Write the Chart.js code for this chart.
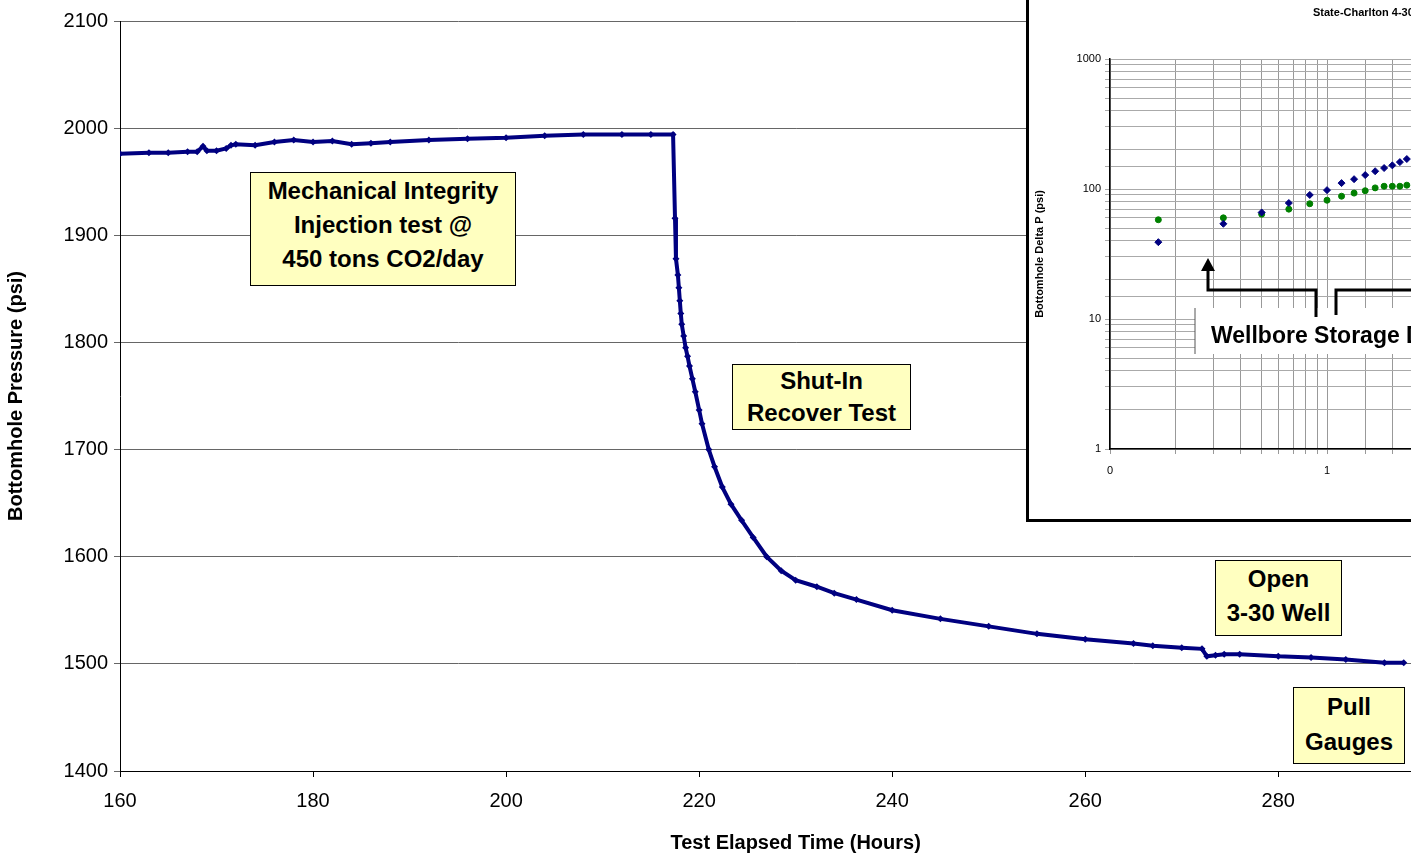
<!DOCTYPE html>
<html>
<head>
<meta charset="utf-8">
<script src="https://cdn.jsdelivr.net/npm/chart.js@4.4.0/dist/chart.umd.min.js"></script>
<style>
  html, body { margin: 0; padding: 0; overflow: hidden; background: #fff; width: 1411px; height: 859px; }
  #main { position: absolute; left: 0; top: 0; }
  #insetBox { position: absolute; left: 1026px; top: -3px; width: 762px; height: 519px; border: 3px solid #000; background: #fff; }
  #inset { position: absolute; left: 0; top: 0; }
  .note { position: absolute; background: #ffffc0; border: 1.5px solid #000; font: bold 24px "Liberation Sans", Arial, sans-serif; text-align: center; line-height: 34px; color: #000; }
  #insetTitle { position: absolute; left: 1313px; top: 6px; font: bold 11px "Liberation Sans", Arial, sans-serif; white-space: nowrap; }
</style>
</head>
<body>
<canvas id="main" width="1500" height="859"></canvas>
<div class="note" style="left:250px;top:172px;width:264px;height:111px;padding-top:1px">Mechanical Integrity<br>Injection test @<br>450 tons CO2/day</div>
<div class="note" style="left:732px;top:364px;width:177px;height:64px;line-height:32px">Shut-In<br>Recover Test</div>
<div class="note" style="left:1215px;top:560px;width:125px;height:73px;line-height:34px;padding-top:1px">Open<br>3-30 Well</div>
<div class="note" style="left:1293px;top:687px;width:110px;height:74px;line-height:35px;padding-top:1px">Pull<br>Gauges</div>
<div id="insetBox"><canvas id="inset" width="762" height="519"></canvas></div>
<div id="insetTitle">State-Charlton 4-30 Falloff Test</div>
<script>
// main test record: elapsed time (hours) vs bottomhole pressure (psi)
const hours = [160, 163, 165, 167, 168, 168.6, 169, 170, 171, 171.5, 172, 174, 176, 178, 180, 182, 184, 186, 188, 192, 196, 200, 204, 208, 212, 215, 217.3,
  217.5, 217.6, 217.8, 217.9, 218.0, 218.1, 218.2, 218.4, 218.6, 218.8, 219.0, 219.3, 219.6, 220.0, 220.3, 221.0, 221.6, 222.4, 223.3, 224.4, 225.6, 227.0, 228.5, 230.0, 232.2, 234.0, 236.3, 240, 245, 250, 255, 260, 265, 267, 270, 272.1, 272.6, 273.5, 274.4, 276, 280, 283.4, 287, 291, 293];
const pressure = [1976, 1977, 1977, 1978, 1978, 1983, 1979, 1979, 1981, 1984, 1985, 1984, 1987, 1989, 1987, 1988, 1985, 1986, 1987, 1989, 1990, 1991, 1993, 1994, 1994, 1994, 1994,
  1916, 1878, 1863, 1851, 1839, 1827, 1817, 1806, 1795, 1787, 1778, 1766, 1754, 1737, 1724, 1700, 1684, 1665, 1649, 1634, 1618, 1600, 1587, 1578, 1572, 1566, 1560, 1550, 1542, 1535, 1528, 1523, 1519, 1517, 1515, 1514, 1507, 1508, 1509, 1509, 1507, 1506, 1504, 1501, 1501];

// inset: log-log delta P vs shut-in time (hours)
const insetHours = [0.167, 0.333, 0.5, 0.667, 0.833, 1.0, 1.167, 1.333, 1.5, 1.667, 1.833, 2.0, 2.167, 2.333];
const insetDeltaP = [39, 54, 66, 78, 90, 98, 111, 119, 128, 137, 145, 152, 161, 170];
const insetDerivative = [58, 60, 64, 70, 77, 82, 88, 93, 97, 102, 105, 105, 105, 107];

const FONT = '"Liberation Sans", Arial, sans-serif';
const NAVY = '#000080';

new Chart(document.getElementById('main'), {
  type: 'line',
  data: {
    datasets: [{
      data: hours.map((h, i) => ({ x: h, y: pressure[i] })),
      borderColor: NAVY, backgroundColor: NAVY, borderWidth: 4,
      pointStyle: 'rectRot', pointRadius: 3.5, pointBorderWidth: 0, tension: 0
    }]
  },
  options: {
    responsive: false, animation: false, devicePixelRatio: 1,
    layout: { padding: { top: 21, right: 22 } },
    plugins: { legend: { display: false }, tooltip: { enabled: false } },
    scales: {
      x: {
        type: 'linear', min: 160, max: 300,
        ticks: { stepSize: 20, color: '#000', font: { family: FONT, size: 20 }, padding: 12, callback: v => String(v) },
        grid: { drawOnChartArea: false, color: '#000', tickLength: 6 },
        border: { color: '#000', width: 1 },
        title: { display: true, text: 'Test Elapsed Time (Hours)', color: '#000', font: { family: FONT, size: 20, weight: 'bold' }, padding: { top: 22 } },
        afterFit: s => { s.height = 88; }
      },
      y: {
        min: 1400, max: 2100,
        ticks: { stepSize: 100, color: '#000', font: { family: FONT, size: 20 }, padding: 6, callback: v => String(v) },
        grid: { color: '#666', tickLength: 6, lineWidth: 1 },
        border: { color: '#000', width: 1 },
        title: { display: true, text: 'Bottomhole Pressure (psi)', color: '#000', font: { family: FONT, size: 20, weight: 'bold' }, padding: { bottom: 4 } },
        afterFit: s => { s.width = 120; }
      }
    }
  }
});

const logLabel = (v) => {
  if (Math.abs(v - 0.1) < 1e-9) return '0';
  const l = Math.log10(v);
  return Math.abs(l - Math.round(l)) < 1e-9 ? String(Math.round(v)) : '';
};

const wellbore = {
  id: 'wellbore',
  afterDraw(c) {
    const ctx = c.ctx;
    ctx.save();
    ctx.fillStyle = '#fff';
    ctx.fillRect(166, 308, 400, 46);
    ctx.strokeStyle = '#555'; ctx.lineWidth = 1;
    ctx.beginPath(); ctx.moveTo(166, 308); ctx.lineTo(166, 354); ctx.stroke();
    ctx.fillStyle = '#000';
    ctx.font = 'bold 23px ' + FONT;
    ctx.fillText('Wellbore Storage Dominated', 182, 343);
    ctx.strokeStyle = '#000'; ctx.lineWidth = 3;
    ctx.beginPath();
    ctx.moveTo(287, 317); ctx.lineTo(287, 290); ctx.lineTo(179, 290); ctx.lineTo(179, 270);
    ctx.moveTo(307, 315); ctx.lineTo(307, 290); ctx.lineTo(450, 290);
    ctx.stroke();
    ctx.beginPath(); ctx.moveTo(179, 258); ctx.lineTo(172, 271); ctx.lineTo(186, 271); ctx.closePath(); ctx.fill();
    ctx.restore();
  }
};

new Chart(document.getElementById('inset'), {
  type: 'scatter',
  data: {
    datasets: [
      { data: insetHours.map((h, i) => ({ x: h, y: insetDeltaP[i] })), backgroundColor: NAVY, borderColor: NAVY, pointStyle: 'rectRot', pointRadius: 3.5 },
      { data: insetHours.map((h, i) => ({ x: h, y: insetDerivative[i] })), backgroundColor: '#008000', borderColor: '#008000', pointStyle: 'circle', pointRadius: 3 }
    ]
  },
  plugins: [wellbore],
  options: {
    responsive: false, animation: false, devicePixelRatio: 1,
    layout: { padding: { top: 59, right: 30, left: 0, bottom: 0 } },
    plugins: { legend: { display: false }, tooltip: { enabled: false } },
    scales: {
      x: {
        type: 'logarithmic', min: 0.1, max: 100,
        ticks: { color: '#000', font: { family: FONT, size: 11 }, callback: logLabel, autoSkip: false, maxRotation: 0, padding: 10 },
        grid: { color: '#999', tickLength: 5 },
        border: { color: '#000', width: 1.5 },
        afterFit: s => { s.height = 70; }
      },
      y: {
        type: 'logarithmic', min: 1, max: 1000,
        ticks: { color: '#000', font: { family: FONT, size: 11 }, callback: logLabel, autoSkip: false, padding: 4 },
        grid: { color: '#aaa', tickLength: 5 },
        border: { color: '#000', width: 1.5 },
        title: { display: true, text: 'Bottomhole Delta P (psi)', color: '#000', font: { family: FONT, size: 11, weight: 'bold' } },
        afterFit: s => { s.width = 81; }
      }
    }
  }
});
</script>
</body>
</html>
